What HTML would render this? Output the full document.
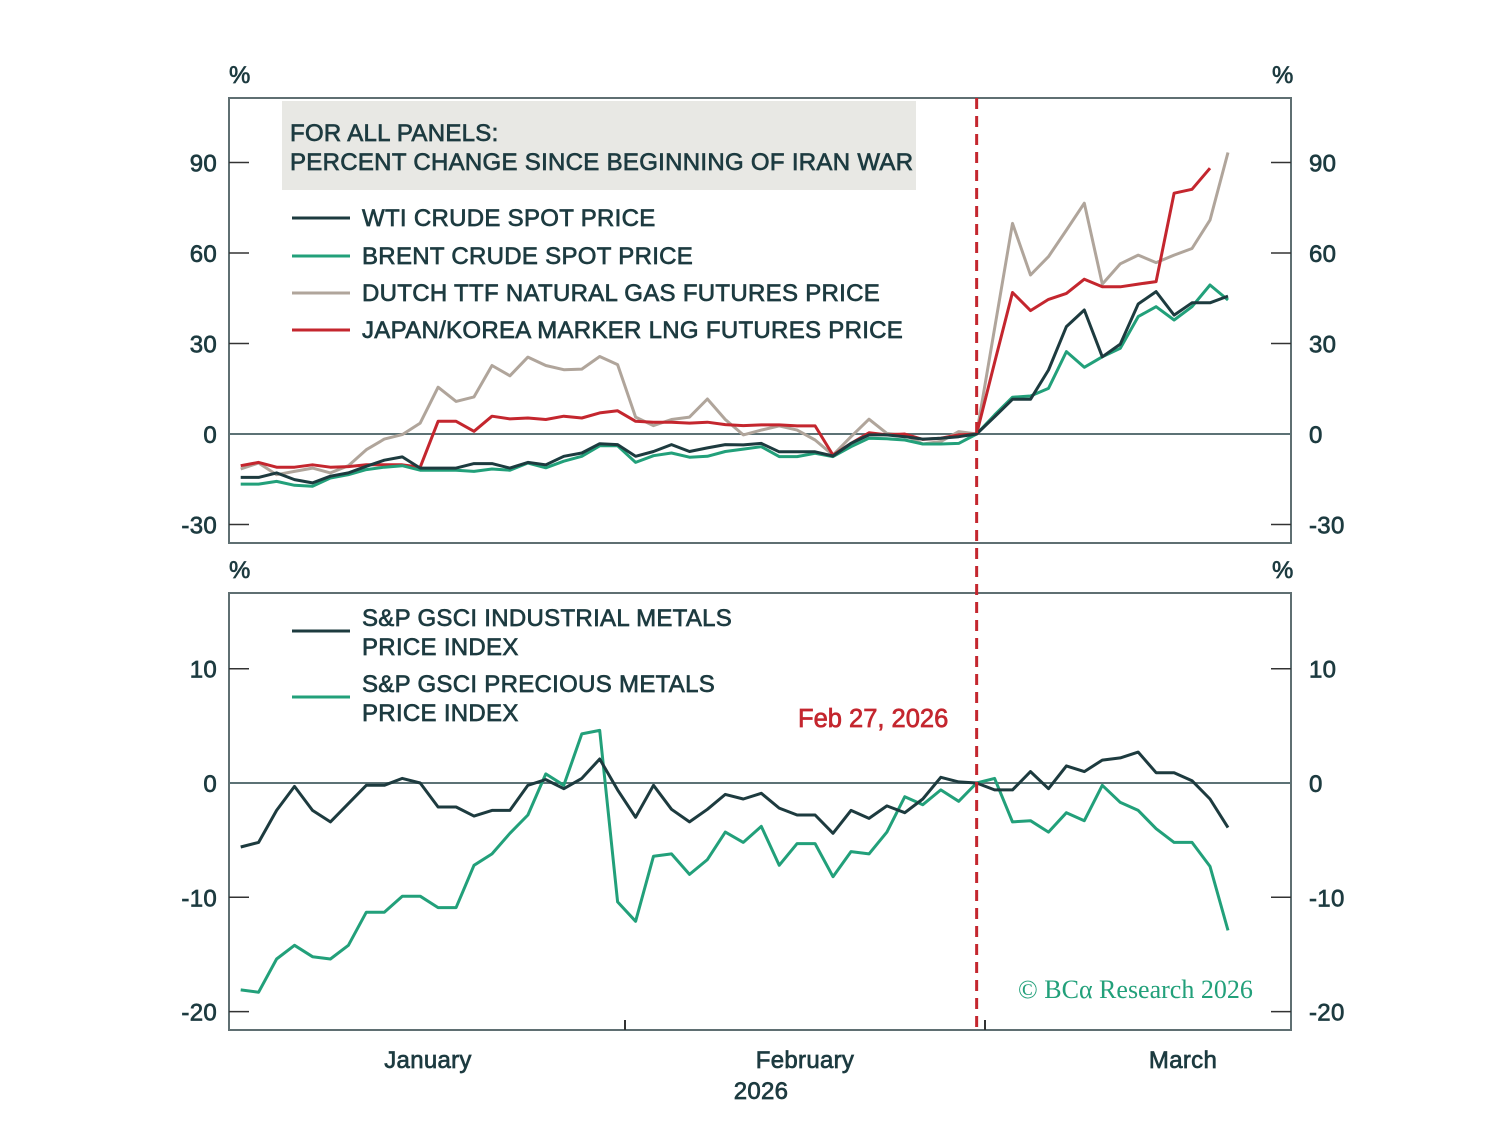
<!DOCTYPE html>
<html><head><meta charset="utf-8"><style>
html,body{margin:0;padding:0;background:#fff;}
svg{display:block;font-family:"Liberation Sans",sans-serif;}
.t{fill:#1d3b40;font-size:24px;letter-spacing:0.3px;stroke:#1d3b40;stroke-width:0.7px;}
</style></head><body>
<svg id="chart" width="1495" height="1144" viewBox="0 0 1495 1144">
<g id="topPanel"></g>
<g id="botPanel"></g>
</svg>
<script>
const wti=[-14.4,-14.4,-12.9,-15.1,-16.2,-14.0,-12.9,-10.7,-8.7,-7.6,-11.3,-11.3,-11.3,-9.8,-9.8,-11.3,-9.4,-10.2,-7.4,-6.3,-3.2,-3.5,-7.4,-5.8,-3.5,-5.8,-4.6,-3.5,-3.6,-3.1,-5.9,-5.9,-5.9,-7.3,-3.1,-0.3,-0.3,-0.9,-1.7,-1.4,-0.9,0,5.7,11.5,11.5,21.2,35.6,41.1,25.6,29.8,43.1,47.2,39.4,43.5,43.5,45.7];
const brent=[-16.6,-16.6,-15.7,-17.0,-17.3,-14.6,-13.5,-11.8,-11.0,-10.5,-12.0,-12.0,-12.0,-12.4,-11.6,-12.0,-9.6,-11.2,-9.0,-7.4,-3.9,-3.9,-9.4,-7.2,-6.3,-7.7,-7.4,-5.8,-5.0,-4.2,-7.5,-7.5,-6.4,-7.5,-4.2,-1.4,-1.6,-2.0,-3.3,-3.3,-3.1,0,6.3,12.2,12.6,15.1,27.3,22.1,25.6,28.4,38.9,42.2,37.8,42.2,49.4,44.4];
const ttf=[-11.6,-9.6,-13.5,-12.4,-11.3,-12.9,-10.5,-5.2,-1.7,-0.2,3.6,15.5,10.8,12.3,22.7,19.3,25.5,22.7,21.3,21.5,25.7,23.0,5.6,2.8,4.8,5.6,11.6,4.8,-0.3,1.3,2.7,1.3,-2.0,-7.0,-0.9,4.9,0.2,-0.3,-3.3,-2.5,0.8,0,35,69.8,52.7,58.8,67.6,76.5,49.7,56.4,59.3,56.8,59.3,61.5,70.9,93.3];
const jkm=[-10.5,-9.4,-11.0,-11.0,-10.2,-11.0,-10.8,-10.2,-10.2,-10.2,-11.0,4.2,4.2,0.9,5.9,5.0,5.3,4.8,5.9,5.3,7.0,7.7,4.2,3.9,3.9,3.6,3.9,3.1,2.8,3.0,3.0,2.7,2.7,-7.0,-3.1,0.4,-0.3,0,-1.8,-1.4,-0.3,0,23.7,46.9,40.9,44.6,46.6,51.3,48.8,48.8,49.7,50.5,79.8,81.1,88.1,null];
const indMetals=[-5.6,-5.2,-2.4,-0.3,-2.4,-3.4,-1.8,-0.2,-0.2,0.4,0,-2.1,-2.1,-2.9,-2.4,-2.4,-0.2,0.3,-0.5,0.4,2.1,-0.6,-3.0,-0.2,-2.3,-3.4,-2.3,-1.0,-1.4,-0.9,-2.2,-2.8,-2.8,-4.4,-2.4,-3.1,-2.0,-2.6,-1.4,0.5,0.1,0,-0.6,-0.6,1.0,-0.5,1.5,1.0,2.0,2.2,2.7,0.9,0.9,0.2,-1.4,-3.9];
const precMetals=[-18.1,-18.3,-15.4,-14.2,-15.2,-15.4,-14.2,-11.3,-11.3,-9.9,-9.9,-10.9,-10.9,-7.2,-6.2,-4.4,-2.8,0.8,-0.2,4.3,4.6,-10.4,-12.1,-6.4,-6.2,-8.0,-6.7,-4.3,-5.2,-3.8,-7.2,-5.3,-5.3,-8.2,-6.0,-6.2,-4.3,-1.2,-1.9,-0.6,-1.6,0,0.4,-3.4,-3.3,-4.3,-2.6,-3.3,-0.2,-1.7,-2.4,-4.0,-5.2,-5.2,-7.3,-12.9];
const topTicks=[90,60,30,0,-30];
const botTicks=[10,0,-10,-20];
const months=["January","February","March"];
const NS="http://www.w3.org/2000/svg";
const svg=document.getElementById('chart');
const X0=240.7, DX=17.95;
const xs=i=>X0+i*DX;
const topY=v=>434-v*3.017;
const botY=v=>783-v*11.43;
function mk(tag,attrs,parent,text){const e=document.createElementNS(NS,tag);for(const k in attrs)e.setAttribute(k,attrs[k]);if(text!=null)e.textContent=text;(parent||svg).appendChild(e);return e;}
const gTop=document.getElementById('topPanel'), gBot=document.getElementById('botPanel');
function frame(g,y0,y1,ticks,fy,pref){
  const r=mk('rect',{x:229,y:y0,width:1062,height:y1-y0,fill:'none',stroke:'#5f6f72','stroke-width':2},g);
  
  
  ticks.forEach(t=>{
    const y=fy(t);
    if(t===0){const z=mk('line',{x1:229,x2:1291,y1:y,y2:y,stroke:'#5c7275','stroke-width':2},g);
      
      }
    else{mk('line',{x1:229,x2:249,y1:y,y2:y,stroke:'#333','stroke-width':1.5},g);mk('line',{x1:1271,x2:1291,y1:y,y2:y,stroke:'#333','stroke-width':1.5},g);}
    const l=mk('text',{x:217,y:y+9,'text-anchor':'end',class:'t'},g,String(t));
    
    
    const rr=mk('text',{x:1309,y:y+9,class:'t'},g,String(t));
    
    
  });
}
function line(g,data,fy,color,name){
  let d='';let pen=false;
  data.forEach((v,i)=>{if(v==null){pen=false;return;}d+=(pen?'L':'M')+xs(i).toFixed(1)+','+fy(v).toFixed(1);pen=true;});
  const p=mk('path',{d:d,fill:'none',stroke:color,'stroke-width':3,'stroke-linejoin':'round'},g);
  
  
}
frame(gTop,98,543,topTicks,topY,'top');
mk('text',{x:229,y:83,class:'t'},gTop,'%');mk('text',{x:1272,y:83,class:'t'},gTop,'%');
const box=mk('rect',{x:282,y:101,width:634,height:89,fill:'#e8e8e4'},gTop);


mk('text',{x:290,y:141,class:'t'},gTop,'FOR ALL PANELS:');
mk('text',{x:290,y:170,class:'t'},gTop,'PERCENT CHANGE SINCE BEGINNING OF IRAN WAR');
const leg=[['WTI CRUDE SPOT PRICE','#1d3b3f',218],['BRENT CRUDE SPOT PRICE','#22a07a',256],['DUTCH TTF NATURAL GAS FUTURES PRICE','#b0a59b',293],['JAPAN/KOREA MARKER LNG FUTURES PRICE','#c4262e',330]];
leg.forEach(l=>{const g=mk('g',{},gTop);
  
  
  mk('line',{x1:292,x2:350,y1:l[2],y2:l[2],stroke:l[1],'stroke-width':3},g);
  mk('text',{x:362,y:l[2]+8,class:'t'},g,l[0]);});
line(gTop,ttf,topY,'#b0a59b','ttf-line');
line(gTop,jkm,topY,'#c4262e','jkm-line');
line(gTop,brent,topY,'#22a07a','brent-line');
line(gTop,wti,topY,'#1d3b3f','wti-line');
frame(gBot,593,1030,botTicks,botY,'bottom');
mk('text',{x:229,y:578,class:'t'},gBot,'%');mk('text',{x:1272,y:578,class:'t'},gBot,'%');
const leg2=[[['S&P GSCI INDUSTRIAL METALS','PRICE INDEX'],'#1d3b3f',631,626],[['S&P GSCI PRECIOUS METALS','PRICE INDEX'],'#22a07a',697,692]];
leg2.forEach(l=>{const g=mk('g',{},gBot);
  
  
  mk('line',{x1:292,x2:350,y1:l[2],y2:l[2],stroke:l[1],'stroke-width':3},g);
  mk('text',{x:362,y:l[3],class:'t'},g,l[0][0]);mk('text',{x:362,y:l[3]+29,class:'t'},g,l[0][1]);});
line(gBot,precMetals,botY,'#22a07a','precious-metals-line');
line(gBot,indMetals,botY,'#1d3b3f','industrial-metals-line');
const fl=mk('text',{x:798,y:727,fill:'#c4262e',stroke:'#c4262e','stroke-width':0.7,'font-size':25.5},gBot,'Feb 27, 2026');


const cp=mk('text',{x:1018,y:998,fill:'#22a07a','font-size':26,'font-family':'Liberation Serif, serif'},gBot,'© BCα Research 2026');


const dl=mk('line',{x1:xs(41),x2:xs(41),y1:98,y2:1030,stroke:'#c4262e','stroke-width':3,'stroke-dasharray':'11 7'});


[625,985].forEach(x=>mk('line',{x1:x,x2:x,y1:1020,y2:1030,stroke:'#333','stroke-width':2}));
const mx=[428,805,1183];
months.forEach((m,i)=>{const t=mk('text',{x:mx[i],y:1068,'text-anchor':'middle',class:'t','font-size':25},svg,m);
  
  });
const yr=mk('text',{x:761,y:1099,'text-anchor':'middle',class:'t'},svg,'2026');


</script>
</body></html>
